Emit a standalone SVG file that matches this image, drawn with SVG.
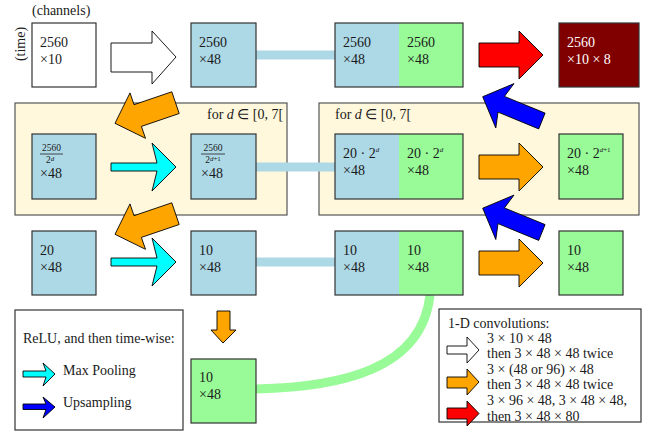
<svg xmlns="http://www.w3.org/2000/svg" width="649" height="433" viewBox="0 0 649 433">
<style>
text{font-family:"Liberation Serif","Times New Roman",serif;font-size:14px;fill:#1a1a1a}
.box{stroke:#333;stroke-width:1.2}
.outline{fill:none;stroke:#333;stroke-width:1.2}
.blue{fill:#add8e6}
.green{fill:#98fb98}
.white{fill:#fff}
.maroon{fill:#800000}
.loop{fill:#fff8dc;stroke:#555;stroke-width:1.2}
.legend{fill:#fff;stroke:#333;stroke-width:1.2}
.conn{stroke:#add8e6;stroke-width:9;fill:none}
.skip{stroke:#98fb98;stroke-width:9;fill:none}
.arr{stroke:#000;stroke-width:0.9;stroke-linejoin:miter}
.fo{fill:#ffa500}
.fc{fill:#00ffff}
.fb{fill:#0000ff}
.fr{fill:#ff0000}
.fw{fill:#fff}
.lt{fill:#fff}
.sm{font-size:9.5px}
.sup{font-size:7px}
.it{font-style:italic}
</style>

<g id="loop-left"><rect class="loop" x="15" y="103" width="272" height="112"/><text x="207" y="119">for <tspan class="it">d</tspan> ∈ [0, 7[</text></g>
<g id="loop-right"><rect class="loop" x="319" y="103" width="320" height="112"/><text x="335" y="119">for <tspan class="it">d</tspan> ∈ [0, 7[</text></g>

<g id="connectors">
<line class="conn" x1="256" y1="55" x2="335" y2="55"/>
<line class="conn" x1="256" y1="167" x2="335" y2="167"/>
<line class="conn" x1="256" y1="262" x2="335" y2="262"/>
<path class="skip" d="M430 295 C422 370 340 387 256 389"/>
</g>

<g id="axis-labels">
<text x="32" y="15">(channels)</text>
<text transform="translate(25 44) rotate(-90)" text-anchor="middle">(time)</text>
</g>

<g id="n-input"><rect class="box white" x="32" y="23" width="64" height="64"/><text x="40" y="47">2560</text><text x="40" y="64">×10</text></g>
<g id="n-r1b"><rect class="box blue" x="191" y="23" width="65" height="64"/><text x="199" y="47">2560</text><text x="199" y="64">×48</text></g>
<g id="n-r1c"><rect class="blue" x="335" y="23" width="64" height="64"/><rect class="green" x="399" y="23" width="64" height="64"/><rect class="outline" x="335" y="23" width="128" height="64"/><text x="343" y="47">2560</text><text x="343" y="64">×48</text><text x="407" y="47">2560</text><text x="407" y="64">×48</text></g>
<g id="n-output"><rect class="box maroon" x="559" y="23" width="80" height="64"/><text class="lt" x="567" y="47">2560</text><text class="lt" x="567" y="64">×10 × 8</text></g>

<g id="n-r2a"><rect class="box blue" x="32" y="134" width="64" height="65"/><text class="sm" x="51.5" y="151" text-anchor="middle">2560</text><line x1="40" y1="154" x2="63" y2="154" stroke="#222" stroke-width="0.8"/><text class="sm" x="50" y="163" text-anchor="middle">2<tspan class="sup it" dy="-2.5">d</tspan></text><text x="40" y="178">×48</text></g>
<g id="n-r2b"><rect class="box blue" x="191" y="134" width="65" height="65"/><text class="sm" x="213" y="151" text-anchor="middle">2560</text><line x1="201" y1="154" x2="225" y2="154" stroke="#222" stroke-width="0.8"/><text class="sm" x="213" y="163" text-anchor="middle">2<tspan class="sup" dy="-2.5"><tspan class="it">d</tspan>+1</tspan></text><text x="201" y="178">×48</text></g>
<g id="n-r2c"><rect class="blue" x="335" y="134" width="64" height="65"/><rect class="green" x="399" y="134" width="64" height="65"/><rect class="outline" x="335" y="134" width="128" height="65"/><text x="343" y="158">20 · 2<tspan class="sup it" dy="-6">d</tspan></text><text x="343" y="175">×48</text><text x="407" y="158">20 · 2<tspan class="sup it" dy="-6">d</tspan></text><text x="407" y="175">×48</text></g>
<g id="n-r2d"><rect class="box green" x="559" y="134" width="64" height="65"/><text x="567" y="158">20 · 2<tspan class="sup" dy="-6"><tspan class="it">d</tspan>+1</tspan></text><text x="567" y="175">×48</text></g>

<g id="n-r3a"><rect class="box blue" x="32" y="231" width="64" height="64"/><text x="40" y="255">20</text><text x="40" y="272">×48</text></g>
<g id="n-r3b"><rect class="box blue" x="191" y="231" width="65" height="64"/><text x="199" y="255">10</text><text x="199" y="272">×48</text></g>
<g id="n-r3c"><rect class="blue" x="335" y="231" width="64" height="64"/><rect class="green" x="399" y="231" width="64" height="64"/><rect class="outline" x="335" y="231" width="128" height="64"/><text x="343" y="255">10</text><text x="343" y="272">×48</text><text x="407" y="255">10</text><text x="407" y="272">×48</text></g>
<g id="n-r3d"><rect class="box green" x="559" y="231" width="64" height="64"/><text x="567" y="255">10</text><text x="567" y="272">×48</text></g>

<g id="n-bottom"><rect class="box green" x="191" y="359" width="65" height="64"/><text x="199" y="382">10</text><text x="199" y="399">×48</text></g>

<g id="arrows">
<polygon class="arr fw" points="111,43 152,43 152,31 176,57 152,84 152,72 111,72"/>
<polygon class="arr fr" points="479,43 519,43 519,31 543,55 519,79 519,67 479,67"/>
<polygon class="arr fo" points="479,155 519,155 519,143 543,167 519,191 519,179 479,179"/>
<polygon class="arr fo" points="479,251 519,251 519,239 543,263 519,287 519,275 479,275"/>
<polygon class="arr fc" points="111,163 157,163 152,143 176,167 152,191 157,171 111,171"/>
<polygon class="arr fc" points="111,258 157,258 152,238 176,262 152,286 157,266 111,266"/>
<polygon class="arr fo" points="115,123.3 130,92.9 134,104.7 171.8,91.8 179.2,113.5 141.4,126.4 145.5,138.3"/>
<polygon class="arr fo" points="115,234.3 130,203.9 134,215.7 171.8,202.8 179.2,224.5 141.4,237.4 145.5,249.3"/>
<polygon class="arr fb" points="482.7,96.7 514,83.6 504.4,96.4 545.1,113.1 538.7,128.9 498,112.1 495.8,128"/>
<polygon class="arr fb" points="482.7,208.2 514,195.1 504.4,207.9 545.1,224.6 538.7,240.4 498,223.6 495.8,239.5"/>
<polygon class="arr fo" points="217,311 230,311 230,330 236,330 223,343 211,330 217,330"/>
</g>

<g id="legend-left">
<rect class="legend" x="15" y="310" width="168" height="120"/>
<text x="23" y="343">ReLU, and then time-wise:</text>
<polygon class="arr fc" points="23,371 46,371 43,363 55,374 43,386 46,377 23,377"/>
<text x="63" y="375">Max Pooling</text>
<polygon class="arr fb" points="23,404 46,404 43,397 55,407 43,418 46,409.5 23,409.5"/>
<text x="63" y="407">Upsampling</text>
</g>

<g id="legend-right">
<rect class="legend" x="439" y="309" width="202" height="113"/>
<text x="448" y="328">1-D convolutions:</text>
<polygon class="arr fw" points="447,346 467,346 467,337 479,350 467,363 467,354 447,354"/>
<text x="487" y="343">3 × 10 × 48</text>
<text x="487" y="358">then 3 × 48 × 48 twice</text>
<polygon class="arr fo" points="447,377 467,377 467,369 479,382 467,395 467,388 447,388"/>
<text x="487" y="374">3 × (48 or 96) × 48</text>
<text x="487" y="389">then 3 × 48 × 48 twice</text>
<polygon class="arr fr" points="447,408 467,408 467,401 479,413.5 467,426 467,419 447,419"/>
<text x="487" y="405">3 × 96 × 48, 3 × 48 × 48,</text>
<text x="487" y="421">then 3 × 48 × 80</text>
</g>
</svg>
